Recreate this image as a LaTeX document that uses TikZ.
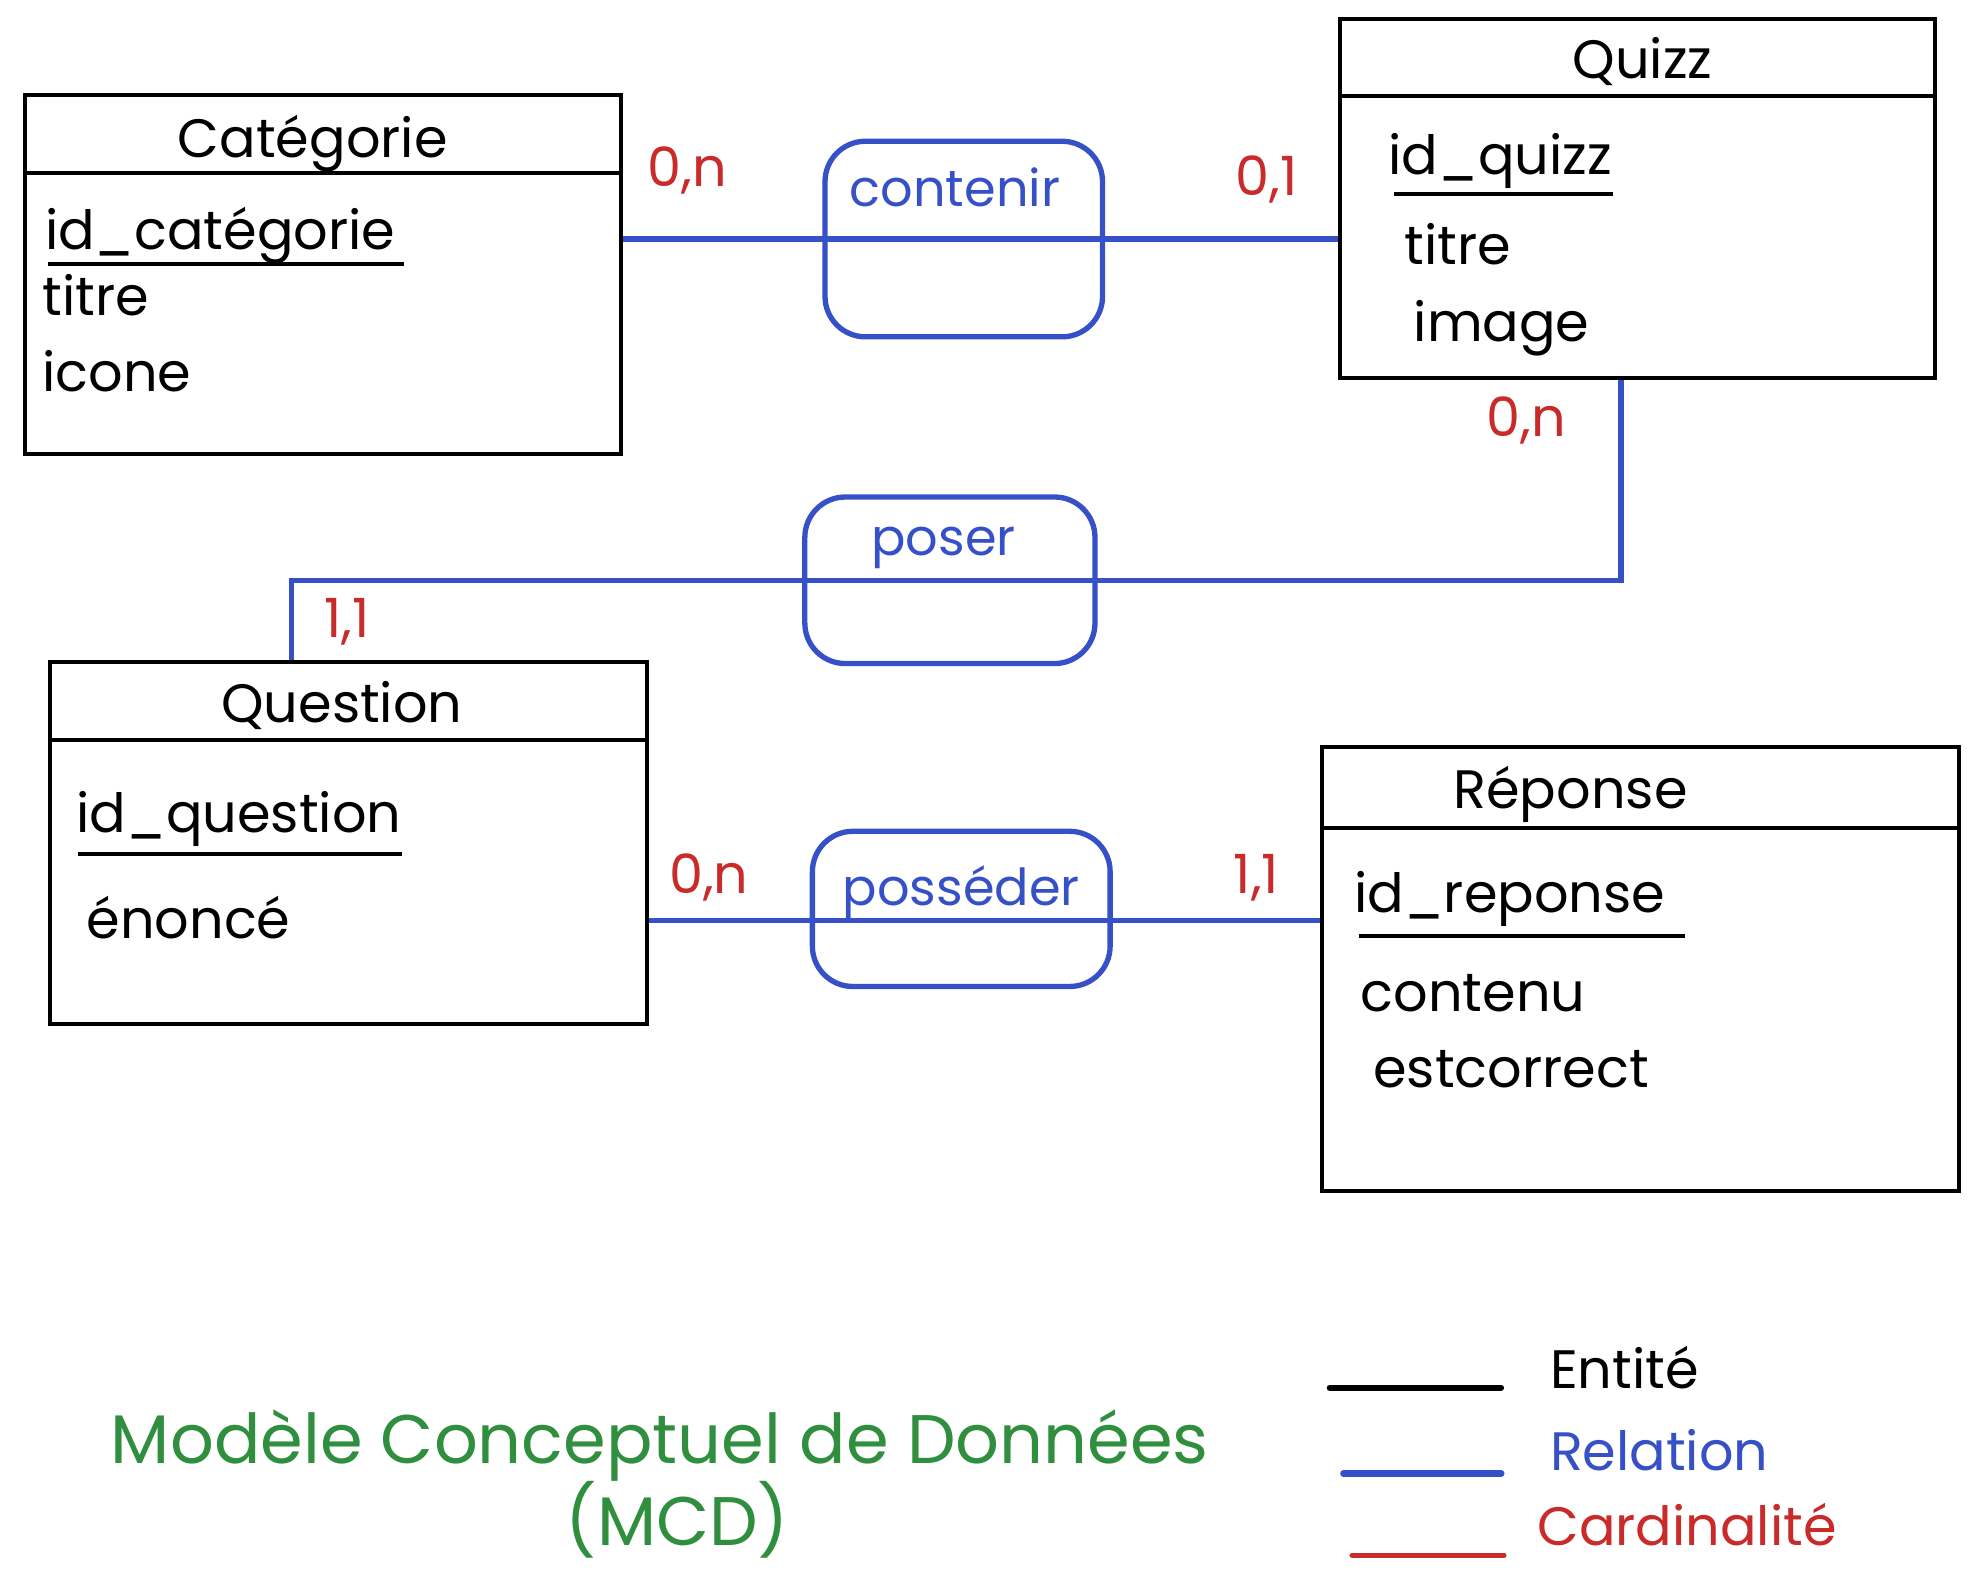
\documentclass[tikz,border=0pt]{standalone}
\usepackage{fontspec}
\setmainfont{Poppins}
\usepackage{xcolor}
\usepackage{tikz}
\usetikzlibrary{positioning}
\definecolor{relblue}{HTML}{3650C8}
\definecolor{cardred}{HTML}{C92A2A}
\definecolor{mcdgreen}{HTML}{2F8F3E}

\begin{document}
\begin{tikzpicture}[every node/.style={inner sep=0pt, font=\fontsize{12.2}{14}\selectfont},
        entity/.style={draw=black, line width=0.9pt, rectangle},
        relation/.style={draw=relblue, line width=1.2pt, rounded corners=0.32cm},
        attr/.style={anchor=base west},
        card/.style={anchor=base, text=cardred},
        rel/.style={draw=relblue, line width=1.2pt}]
        \useasboundingbox (0,0) rectangle (15.68,-12.65);

        % entites
        \node[entity, minimum width=4.72cm, minimum height=2.85cm] (cat) at (2.56,-2.175) {};
        \node[anchor=base] (cattitle) at (2.48,-1.25) {Catégorie};
        \draw[line width=0.9pt] ([yshift=-0.64cm]cat.north west) -- ([yshift=-0.64cm]cat.north east);
        \node[attr] (catid) at (0.35,-1.98) {id\_catégorie};
        \draw[line width=0.9pt] ([xshift=0.03cm, yshift=-0.11cm]catid.base west) -- ([xshift=0.06cm, yshift=-0.11cm]catid.base east);
        \node[attr] (cattitre) at (0.33,-2.50) {titre};
        \node[attr] (caticone) at (0.33,-3.10) {icone};

        \node[entity, minimum width=4.72cm, minimum height=2.85cm] (quizz) at (12.98,-1.575) {};
        \node[anchor=base] (quizztitle) at (13.02,-0.625) {Quizz};
        \draw[line width=0.9pt] ([yshift=-0.63cm]quizz.north west) -- ([yshift=-0.63cm]quizz.north east);
        \node[attr] (quizzid) at (11.00,-1.38) {id\_quizz};
        \draw[line width=0.9pt] ([xshift=0.05cm, yshift=-0.16cm]quizzid.base west) -- ([yshift=-0.16cm]quizzid.base east);
        \node[attr] (quizztitre) at (11.13,-2.10) {titre};
        \node[attr] (quizzimage) at (11.20,-2.71) {image};

        \node[entity, minimum width=4.73cm, minimum height=2.87cm] (question) at (2.765,-6.685) {};
        \node[anchor=base] (questiontitle) at (2.71,-5.73) {Question};
        \draw[line width=0.9pt] ([yshift=-0.63cm]question.north west) -- ([yshift=-0.63cm]question.north east);
        \node[attr] (questionid) at (0.60,-6.60) {id\_question};
        \draw[line width=0.9pt] ([xshift=0.02cm, yshift=-0.17cm]questionid.base west) -- ([yshift=-0.17cm]questionid.base east);
        \node[attr] (questionenonce) at (0.68,-7.44) {énoncé};

        \node[entity, minimum width=5.05cm, minimum height=3.52cm] (reponse) at (13.005,-7.68) {};
        \node[anchor=base] (reponsetitle) at (12.45,-6.41) {Réponse};
        \draw[line width=0.9pt] ([yshift=-0.66cm]reponse.north west) -- ([yshift=-0.66cm]reponse.north east);
        \node[attr] (reponseid) at (10.73,-7.23) {id\_reponse};
        \draw[line width=0.9pt] ([xshift=0.04cm, yshift=-0.19cm]reponseid.base west) -- ([xshift=0.15cm, yshift=-0.19cm]reponseid.base east);
        \node[attr] (reponsecontenu) at (10.78,-8.02) {contenu};
        \node[attr] (reponsecorrect) at (10.88,-8.62) {estcorrect};

        % relations
        \node[relation, minimum width=2.20cm, minimum height=1.55cm] (contenir) at (7.64,-1.895) {};
        \node[anchor=base, text=relblue, font=\fontsize{11.5}{14}\selectfont] (contenirlabel) at (7.57,-1.64) {contenir};
        \node[relation, minimum width=2.30cm, minimum height=1.32cm] (poser) at (7.53,-4.60) {};
        \node[anchor=base, text=relblue, font=\fontsize{11.5}{14}\selectfont] (poserlabel) at (7.48,-4.40) {poser};
        \node[relation, minimum width=2.36cm, minimum height=1.23cm] (posseder) at (7.62,-7.205) {};
        \node[anchor=base, text=relblue, font=\fontsize{11.5}{14}\selectfont] (possederlabel) at (7.62,-7.18) {posséder};

        \draw[rel] (contenir.center -| cat.east) -- (contenir.center -| quizz.west);
        \draw[rel] ([xshift=-0.13cm]quizz.south) |- (poser.center) -| ([xshift=-0.455cm]question.north);
        \draw[rel] ([yshift=-0.09cm]posseder.center -| question.east) -- ([yshift=-0.09cm]posseder.center -| reponse.west);

        % cardinalites
        \node[card] (c1) at (5.45,-1.48) {0,n};
        \node[card] (c2) at (10.04,-1.55) {0,1};
        \node[card] (c3) at (12.10,-3.46) {0,n};
        \node[card] (c4) at (2.75,-5.05) {1,1};
        \node[card] (c5) at (5.62,-7.08) {0,n};
        \node[card] (c6) at (9.96,-7.08) {1,1};

        % titre
        \node[anchor=base, text=mcdgreen, font=\fontsize{15.5}{18}\selectfont] (mcd) at (5.23,-11.60) {Modèle Conceptuel de Données};
        \node[anchor=base, text=mcdgreen, font=\fontsize{15.5}{18}\selectfont] (mcdabbr) at (5.37,-12.25) {(MCD)};

        % legende
        \node[attr] (lentite) at (12.28,-11.01) {Entité};
        \node[attr, text=relblue] (lrelation) at (12.28,-11.66) {Relation};
        \node[attr, text=cardred] (lcard) at (12.18,-12.25) {Cardinalité};
        \coordinate (le1) at (10.54,-11.00);
        \coordinate (le2) at (10.65,-11.68);
        \coordinate (le3) at (10.72,-12.33);
        \draw[line width=1.3pt, line cap=round] (le1) -- (le1 -| 11.90,0);
        \draw[line width=1.5pt, line cap=round, relblue] (le2) -- (le2 -| 11.90,0);
        \draw[line width=1.3pt, line cap=round, cardred] (le3) -- (le3 -| 11.92,0);
    \end{tikzpicture}
\end{document}
